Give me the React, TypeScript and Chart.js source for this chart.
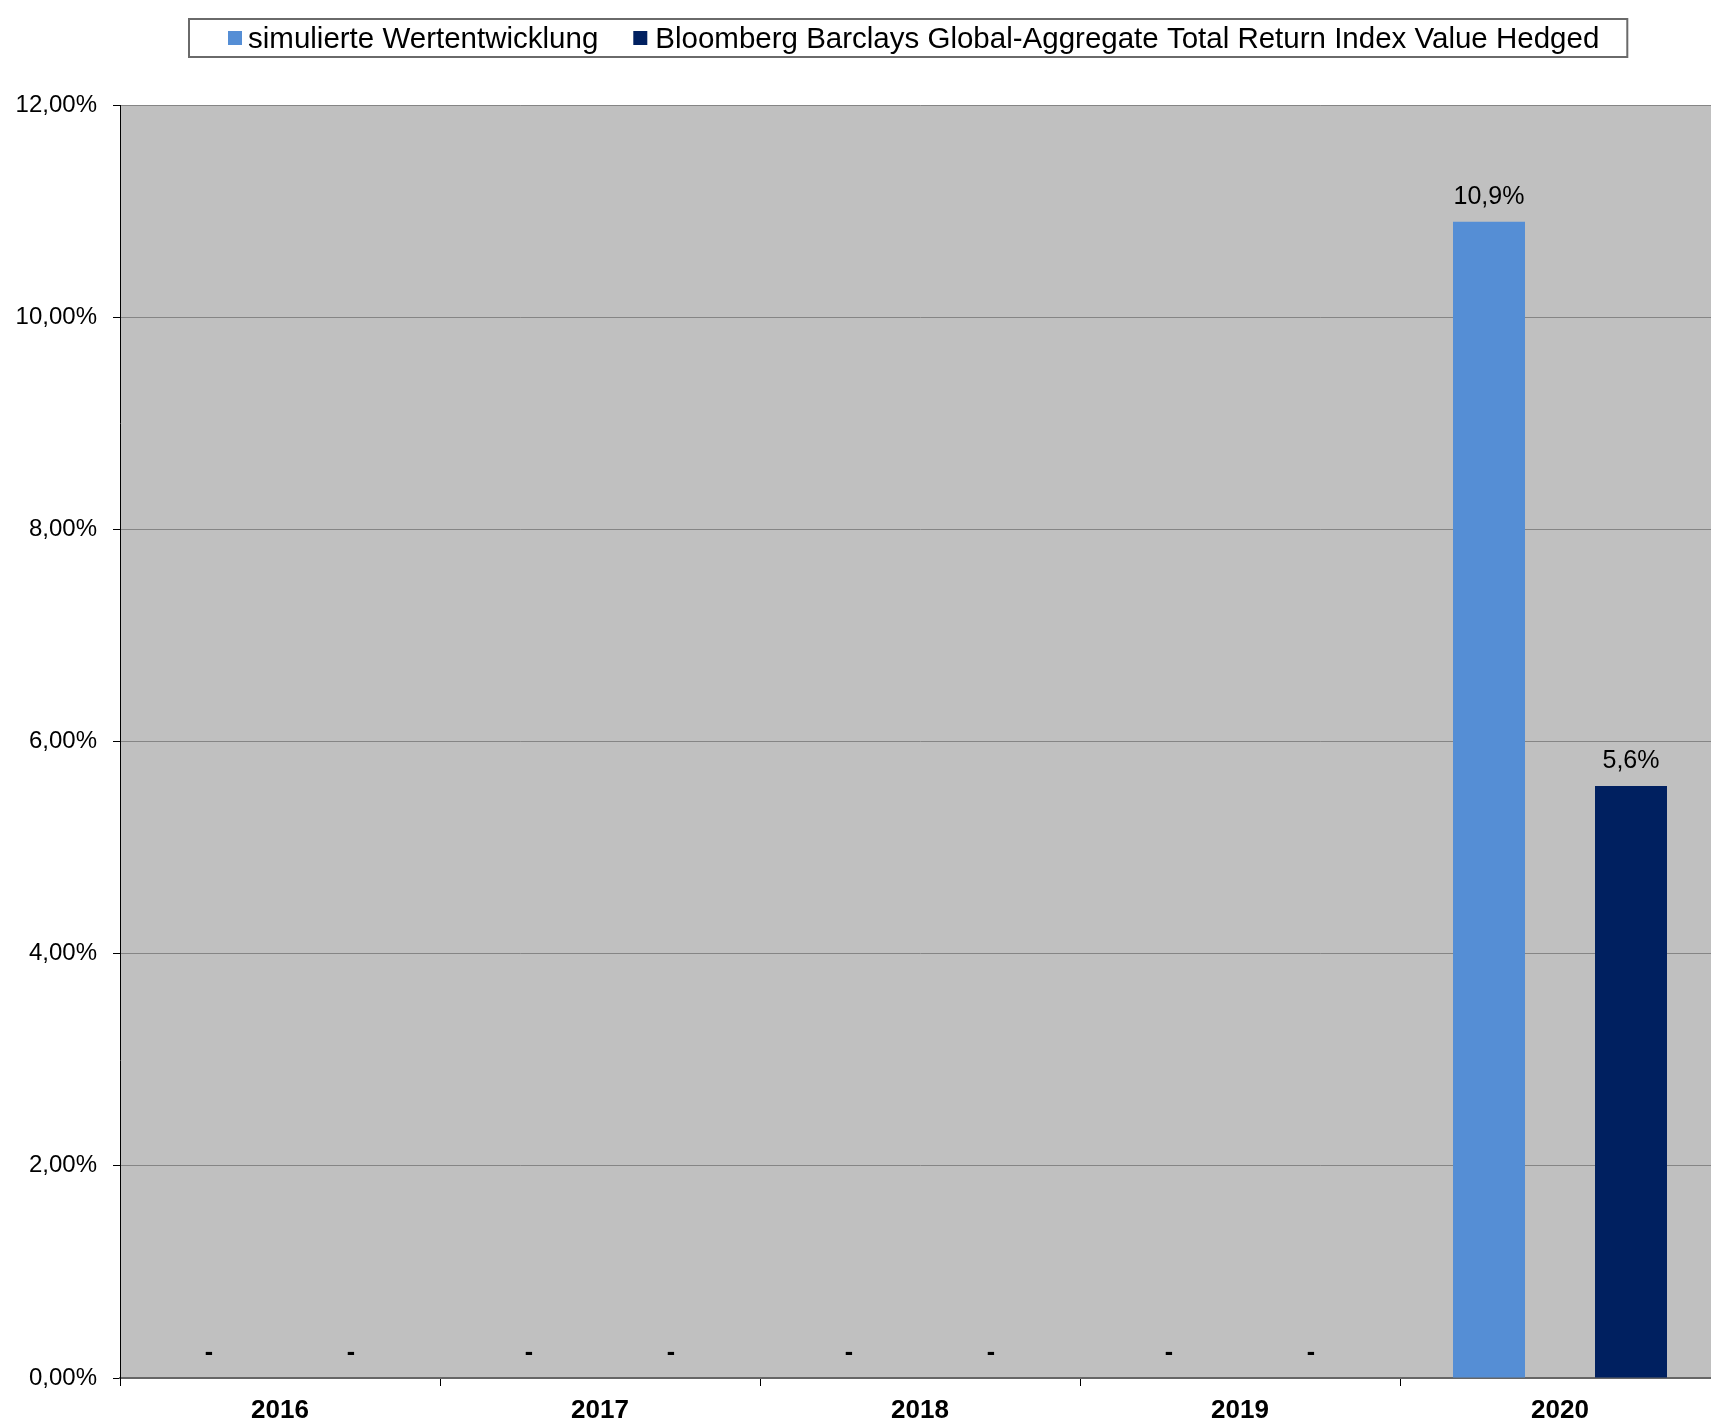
import { useEffect, useRef } from "react";
import { Chart, registerables } from "chart.js";

Chart.register(...registerables);

const categories = ["2016", "2017", "2018", "2019", "2020"];
const seriesNames = [
  "simulierte Wertentwicklung",
  "Bloomberg Barclays Global-Aggregate Total Return Index Value Hedged",
];
const simulated = [0, 0, 0, 0, 10.9];
const benchmark = [0, 0, 0, 0, 5.58];
const yTicks = [0, 2, 4, 6, 8, 10, 12];

const FONT = '"Liberation Sans", Arial, sans-serif';
const COLORS = ["#558ED5", "#002060"];

const fmtPct2 = (v: number) => v.toFixed(2).replace(".", ",") + "%";
const fmtPct1 = (v: number) => v.toFixed(1).replace(".", ",") + "%";

const plotBg = {
  id: "plotBg",
  beforeDraw(chart: any) {
    const { ctx, chartArea } = chart;
    ctx.save();
    ctx.fillStyle = "#C0C0C0";
    ctx.fillRect(chartArea.left, chartArea.top, chartArea.right - chartArea.left, chartArea.bottom - chartArea.top);
    ctx.restore();
  },
};

const dataLabels = {
  id: "dataLabels",
  afterDatasetsDraw(chart: any) {
    const { ctx } = chart;
    ctx.save();
    ctx.fillStyle = "#000";
    ctx.textAlign = "center";
    ctx.textBaseline = "middle";
    chart.data.datasets.forEach((ds: any, di: number) => {
      const meta = chart.getDatasetMeta(di);
      meta.data.forEach((el: any, i: number) => {
        const v = ds.data[i];
        if (v === 0) {
          ctx.font = `bold 25px ${FONT}`;
          ctx.fillText("-", el.x, el.y - 24.5);
        } else {
          ctx.font = `25px ${FONT}`;
          ctx.fillText(fmtPct1(v), el.x, el.y - 24.5);
        }
      });
    });
    ctx.restore();
  },
};

const boxLegend = {
  id: "boxLegend",
  afterDraw(chart: any) {
    const { ctx } = chart;
    ctx.save();
    ctx.font = `29.5px ${FONT}`;
    const boxL = 189;
    const boxT = 19;
    const boxB = 57;
    const gap = 35;
    let x = 228;
    const marker = 14;
    const items = chart.data.datasets.map((ds: any) => ({ text: ds.label, color: ds.backgroundColor }));
    const positions: { mx: number; tx: number }[] = [];
    items.forEach((it: any, i: number) => {
      const mx = x;
      const tx = mx + marker + (i === 0 ? 6 : 8);
      positions.push({ mx, tx });
      x = tx + ctx.measureText(it.text).width + gap;
    });
    const lastEnd = x - gap;
    const boxR = lastEnd + 28;
    ctx.fillStyle = "#fff";
    ctx.fillRect(boxL, boxT, boxR - boxL, boxB - boxT);
    ctx.strokeStyle = "#6a6a6a";
    ctx.lineWidth = 2;
    ctx.strokeRect(boxL, boxT, boxR - boxL, boxB - boxT);
    items.forEach((it: any, i: number) => {
      ctx.fillStyle = it.color;
      ctx.fillRect(positions[i].mx, 31, marker, marker);
      ctx.fillStyle = "#000";
      ctx.textAlign = "left";
      ctx.textBaseline = "alphabetic";
      ctx.fillText(it.text, positions[i].tx, 47.5);
    });
    ctx.restore();
  },
};

export default function App() {
  const ref = useRef<HTMLCanvasElement | null>(null);

  useEffect(() => {
    if (!ref.current) return;
    const chart = new Chart(ref.current, {
      type: "bar",
      data: {
        labels: categories,
        datasets: [
          { label: seriesNames[0], data: simulated, backgroundColor: COLORS[0], borderWidth: 0 },
          { label: seriesNames[1], data: benchmark, backgroundColor: COLORS[1], borderWidth: 0 },
        ],
      },
      options: {
        responsive: false,
        animation: false,
        devicePixelRatio: 1,
        layout: { padding: { top: 105, left: 0, right: 0, bottom: 0 } },
        datasets: { bar: { categoryPercentage: 0.8875, barPercentage: 0.507 } },
        plugins: {
          legend: { display: false },
          tooltip: { enabled: false },
          title: { display: false },
        },
        scales: {
          x: {
            offset: true,
            grid: {
              offset: true,
              drawOnChartArea: false,
              drawTicks: true,
              tickLength: 8,
              tickColor: "#000",
              color: "#000",
            },
            border: { display: true, color: "#666", width: 2 },
            ticks: {
              color: "#000",
              font: { family: FONT, size: 26, weight: "bold" },
              padding: 9,
              maxRotation: 0,
            },
            afterFit(s: any) {
              s.height = 49;
            },
          },
          y: {
            min: 0,
            max: 12,
            afterBuildTicks(s: any) {
              s.ticks = yTicks.map((v) => ({ value: v }));
            },
            grid: {
              color: "#858585",
              lineWidth: 1,
              drawTicks: true,
              tickLength: 7,
              tickColor: "#000",
            },
            border: { display: true, color: "#000", width: 1 },
            ticks: {
              color: "#000",
              font: { family: FONT, size: 24 },
              padding: 16,
              callback: (v: any) => fmtPct2(Number(v)),
            },
            afterFit(s: any) {
              s.width = 120;
            },
          },
        },
      },
      plugins: [plotBg, dataLabels, boxLegend],
    });
    return () => chart.destroy();
  }, []);

  return (
    <div style={{ position: "fixed", left: 0, top: 0, width: 1711, height: 1427, overflow: "hidden", background: "#fff" }}>
      <canvas ref={ref} width={1720} height={1427} style={{ display: "block" }} />
    </div>
  );
}
